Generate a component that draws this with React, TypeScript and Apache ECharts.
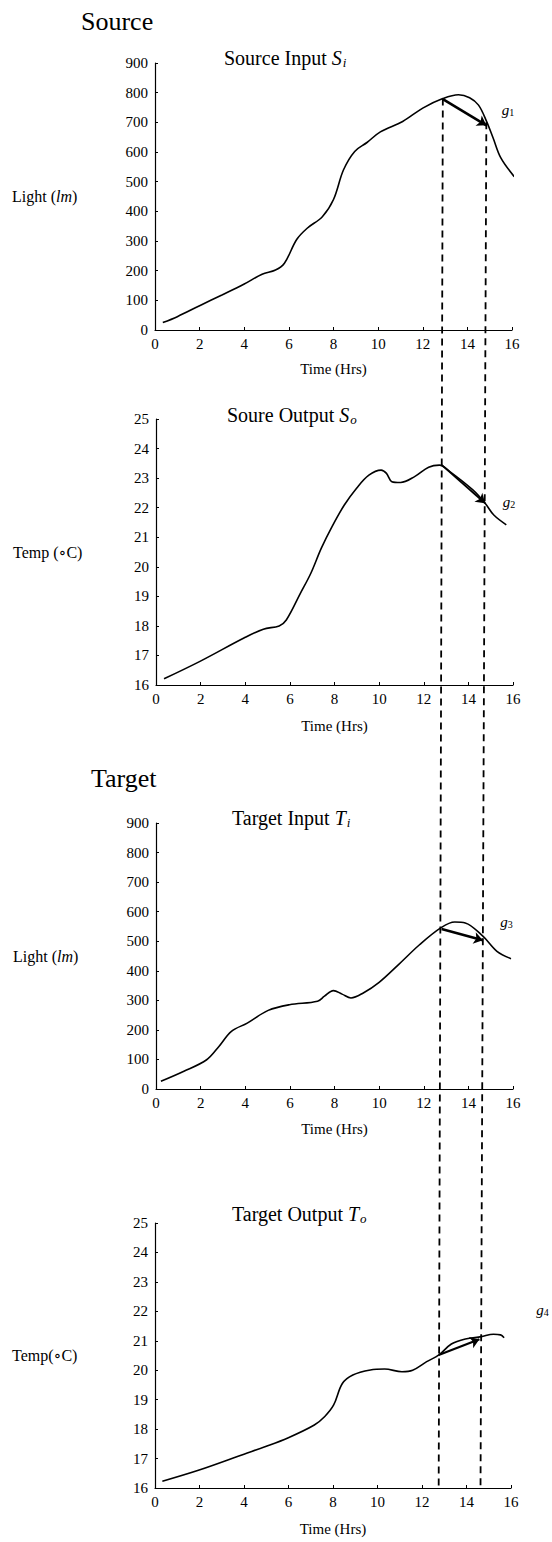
import React, { useEffect, useRef } from "react";
import * as echarts from "echarts";

const FONT = "'Liberation Serif', 'DejaVu Serif', serif";

// Source Input S_i (Light, lm)
const srcInTime = [0.35, 1, 2, 3, 4, 4.8, 5.4, 5.8, 6.35, 6.82, 7.5, 8.0, 8.45, 8.95, 9.5, 10.1, 11.1, 12.0, 12.9, 13.6, 14.1, 14.5, 14.85, 15.15, 15.5, 16.1];
const srcInLight = [25, 45, 82, 118, 155, 188, 202, 225, 305, 343, 382, 440, 540, 602, 632, 668, 703, 748, 780, 793, 783, 758, 705, 648, 580, 517];

// Soure Output S_o (Temp, C)
const srcOutTime = [0.36, 1.97, 3.94, 4.81, 5.52, 5.84, 6.47, 6.94, 7.41, 7.89, 8.44, 8.99, 9.54, 10.09, 10.33, 10.57, 10.96, 11.59, 12.22, 12.7, 13.17, 14.2, 14.75, 15.14, 15.7];
const srcOutTemp = [16.21, 16.8, 17.59, 17.89, 18.0, 18.2, 19.1, 19.78, 20.63, 21.36, 22.09, 22.66, 23.1, 23.27, 23.16, 22.88, 22.85, 23.05, 23.37, 23.44, 23.22, 22.6, 22.15, 21.75, 21.42];

// Target Input T_i (Light, lm)
const tgtInTime = [0.22, 1.25, 2.27, 2.82, 3.38, 4.09, 5.03, 5.98, 7.24, 7.55, 7.95, 8.34, 8.74, 9.29, 10.0, 10.87, 11.81, 12.76, 13.39, 13.86, 14.65, 15.28, 15.91];
const tgtInLight = [26, 60, 99, 144, 195, 223, 266, 285, 297, 314, 333, 321, 308, 325, 361, 421, 488, 545, 565, 562, 517, 466, 441];

// Target Output T_o (Temp, C)
const tgtOutTime = [0.33, 2.02, 4.0, 4.94, 5.97, 7.16, 7.63, 8.03, 8.42, 8.89, 9.68, 10.32, 11.1, 11.58, 12.21, 12.76, 13.32, 13.95, 14.66, 15.21, 15.53, 15.69];
const tgtOutTemp = [16.23, 16.62, 17.15, 17.4, 17.7, 18.14, 18.43, 18.82, 19.55, 19.84, 20.01, 20.04, 19.95, 20.0, 20.29, 20.52, 20.89, 21.06, 21.14, 21.22, 21.2, 21.1];

// Gradient arrows g1..g4: [startTime, startValue, endTime, endValue]
const arrowG1 = [12.9, 778, 14.85, 690];
const arrowG2 = [12.8, 23.45, 14.75, 22.15];
const arrowG3 = [12.8, 541, 14.65, 503];
const arrowG4 = [12.75, 20.52, 14.58, 21.05];

// label positions for g1..g4 (time, value)
const gLabelPos = [
  [15.82, 742],
  [15.82, 22.2],
  [15.71, 565],
  [17.42, 22.04],
];
const gLabelIdx = ["1", "2", "3", "4"];

// vertical dashed guide lines: top point in chart 1, bottom time in chart 4
const guideTopTime = [12.9, 14.85];
const guideTopLight = [780, 700];
const guideBottomTime = [12.75, 14.63];

const lightTicks = { min: 0, max: 900, interval: 100 };
const tempTicks = { min: 16, max: 25, interval: 1 };
const timeTicks = { min: 0, max: 16, interval: 2 };

const chartTitles = [
  ["Source Input ", "S", "i"],
  ["Soure Output ", "S", "o"],
  ["Target Input ", "T", "i"],
  ["Target Output ", "T", "o"],
];
const yNames = [
  "{r|Light (}{i|lm}{r|)}",
  "{r|Temp (∘C)}",
  "{r|Light (}{i|lm}{r|)}",
  "{r|Temp(∘C)}",
];

const grids = [
  { left: 155, top: 63, width: 357, height: 267 },
  { left: 156, top: 419, width: 357, height: 266 },
  { left: 156, top: 823, width: 357, height: 266 },
  { left: 155, top: 1223, width: 356, height: 265 },
];
const titlePos = [
  { left: 219, top: 42 },
  { left: 222, top: 399 },
  { left: 227, top: 802 },
  { left: 227, top: 1198 },
];
const xNameGaps = [31, 33, 32, 33];

const zip = (a: number[], b: number[]) => a.map((x, i) => [x, b[i]]);

const richBase = {
  r: { fontFamily: FONT, fontSize: 16, color: "#000", fontWeight: "normal" },
  i: { fontFamily: FONT, fontSize: 16, color: "#000", fontStyle: "italic", fontWeight: "normal" },
};

export default function App() {
  const ref = useRef<HTMLDivElement>(null);
  useEffect(() => {
    if (!ref.current) return;
    const chart = echarts.init(ref.current, undefined, { renderer: "svg" });

    const seriesData = [
      zip(srcInTime, srcInLight),
      zip(srcOutTime, srcOutTemp),
      zip(tgtInTime, tgtInLight),
      zip(tgtOutTime, tgtOutTemp),
    ];
    const arrows = [arrowG1, arrowG2, arrowG3, arrowG4];
    const arrowWidths = [2.6, 1.8, 2.6, 2.2];

    const option: any = {
      animation: false,
      backgroundColor: "#fff",
      title: [
        { text: "Source", left: 76, top: 3, textStyle: { fontFamily: FONT, fontSize: 26, fontWeight: "normal", color: "#000" } },
        { text: "Target", left: 86, top: 760, textStyle: { fontFamily: FONT, fontSize: 26, fontWeight: "normal", color: "#000" } },
        ...chartTitles.map((t, i) => ({
          text: `{r|${t[0]}}{it|${t[1]}}{sub|${t[2]}}`,
          left: titlePos[i].left,
          top: titlePos[i].top,
          textStyle: {
            fontWeight: "normal",
            rich: {
              r: { fontFamily: FONT, fontSize: 20, color: "#000", fontWeight: "normal" },
              it: { fontFamily: FONT, fontSize: 20, color: "#000", fontStyle: "italic", fontWeight: "normal" },
              sub: { fontFamily: FONT, fontSize: 13, color: "#000", fontStyle: "italic", fontWeight: "normal", padding: [9, 0, 0, 1] },
            },
          },
        })),
      ],
      grid: grids.map((g) => ({ ...g, containLabel: false })),
      xAxis: grids.map((_, i) => ({
        type: "value",
        gridIndex: i,
        ...timeTicks,
        name: "Time (Hrs)",
        nameLocation: "middle",
        nameGap: xNameGaps[i],
        nameTextStyle: { fontFamily: FONT, fontSize: 15, color: "#000" },
        axisLine: { show: true, lineStyle: { color: "#000", width: 1.2 } },
        axisTick: { show: true, inside: true, length: 3, lineStyle: { color: "#000" } },
        axisLabel: { fontFamily: FONT, fontSize: 15, color: "#000", margin: 6 },
        splitLine: { show: false },
      })),
      yAxis: grids.map((_, i) => ({
        type: "value",
        gridIndex: i,
        ...(i % 2 === 0 ? lightTicks : tempTicks),
        name: yNames[i],
        nameLocation: "middle",
        nameRotate: 0,
        nameGap: 143,
        nameTextStyle: { align: "left", rich: richBase },
        axisLine: { show: true, lineStyle: { color: "#000", width: 1.2 } },
        axisTick: { show: true, inside: true, length: 3, lineStyle: { color: "#000" } },
        axisLabel: { fontFamily: FONT, fontSize: 15, color: "#000", margin: 7 },
        splitLine: { show: false },
      })),
      series: seriesData.map((d, i) => ({
        type: "line",
        xAxisIndex: i,
        yAxisIndex: i,
        data: d,
        showSymbol: false,
        smooth: 0.35,
        clip: false,
        lineStyle: { color: "#000", width: 1.6 },
        markLine: {
          silent: true,
          symbol: ["none", "arrow"],
          symbolSize: 9,
          label: { show: false },
          lineStyle: { color: "#000", width: arrowWidths[i], type: "solid" },
          data: [
            [
              { coord: [arrows[i][0], arrows[i][1]] },
              { coord: [arrows[i][2], arrows[i][3]] },
            ],
          ],
        },
      })),
    };
    chart.setOption(option);

    const graphics: any[] = [];
    guideTopTime.forEach((t, k) => {
      const top = chart.convertToPixel({ gridIndex: 0 } as any, [t, guideTopLight[k]]) as number[];
      const bot = chart.convertToPixel({ gridIndex: 3 } as any, [guideBottomTime[k], tempTicks.min]) as number[];
      graphics.push({
        type: "line",
        silent: true,
        shape: { x1: top[0], y1: top[1], x2: bot[0], y2: bot[1] },
        style: { stroke: "#000", lineWidth: 1.8, lineDash: [7, 5] },
        z: 10,
      });
    });
    gLabelPos.forEach((p, i) => {
      const px = chart.convertToPixel({ gridIndex: i } as any, p) as number[];
      graphics.push({
        type: "text",
        x: px[0],
        y: px[1],
        silent: true,
        style: {
          text: `{g|g}{s|${gLabelIdx[i]}}`,
          align: "center",
          verticalAlign: "middle",
          rich: {
            g: { fontFamily: FONT, fontSize: 15, fontStyle: "italic", fill: "#000", color: "#000" },
            s: { fontFamily: FONT, fontSize: 10, fill: "#000", color: "#000", padding: [5, 0, 0, 0] },
          },
        },
        z: 10,
      });
    });
    chart.setOption({ graphic: graphics });

    return () => chart.dispose();
  }, []);

  return (
    <div
      ref={ref}
      style={{ position: "absolute", left: 0, top: 0, width: 552, height: 1542 }}
    />
  );
}
